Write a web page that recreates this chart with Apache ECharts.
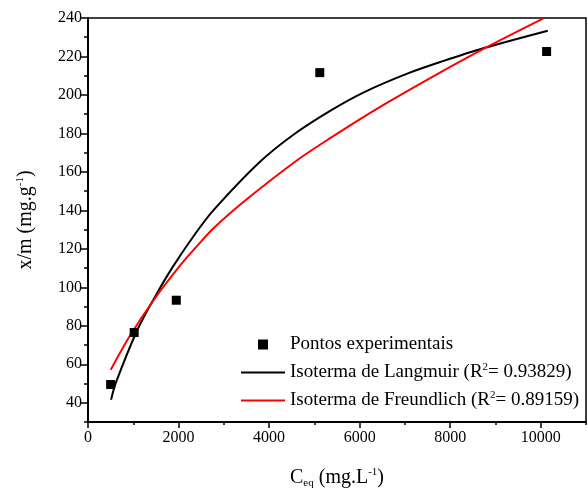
<!DOCTYPE html>
<html>
<head>
<meta charset="utf-8">
<script src="https://cdn.jsdelivr.net/npm/echarts@6/dist/echarts.min.js"></script>
<style>
  html, body { margin: 0; padding: 0; background: #fff; }
  #chart { width: 588px; height: 494px; }
</style>
</head>
<body>
<div id="chart"></div>
<script>
// experimental points (Ceq, x/m)
const pontos = [[500, 49.5], [1020, 76.5], [1950, 93.3], [5120, 211.6], [10130, 222.6]]

// fitted curves
const langmuir = [
  [510, 41.6], [614, 50.3], [1080, 77.3], [1486, 95.3], [1869, 110.5], [2373, 128],
  [2778, 140.3], [3776, 164.8], [4552, 179.6], [5366, 192], [6104, 201.5],
  [7066, 211.2], [7805, 217.3], [8765, 224.5], [10155, 233.4],
]
const freundlich = [
  [503, 57.1], [916, 74.4], [1448, 93.3], [2040, 111.5], [2373, 120.5], [2778, 130.8],
  [3519, 146], [4627, 166.2], [5366, 177.8], [6326, 192], [7656, 210],
  [8765, 224.3], [10060, 239.8],
]

const xTicks = [0, 2000, 4000, 6000, 8000, 10000]
const xMinor = [1000, 3000, 5000, 7000, 9000, 11000]
const yTicks = [40, 60, 80, 100, 120, 140, 160, 180, 200, 220, 240]
const yMinor = [30, 50, 70, 90, 110, 130, 150, 170, 190, 210, 230]

const font = 'Liberation Serif'
const chart = echarts.init(document.getElementById('chart'))

const legendText = {
  'Pontos experimentais': 'Pontos experimentais',
  langmuir: 'Isoterma de Langmuir (R{sup|2}= 0.93829)',
  freundlich: 'Isoterma de Freundlich (R{sup|2}= 0.89159)',
}
const lineIcon = 'path://M0,0H44V2H0Z'

chart.setOption({
  animation: false,
  backgroundColor: '#fff',
  textStyle: { fontFamily: font },
  grid: { left: 88, right: 2, top: 18, bottom: 71, show: true, borderColor: '#000', borderWidth: 1.5 },
  legend: {
    orient: 'vertical',
    left: 236,
    top: 330,
    itemWidth: 44,
    itemHeight: 10,
    itemGap: 8,
    symbolKeepAspect: true,
    data: [
      { name: 'Pontos experimentais', icon: 'path://M0,0H10V10H0Z' },
      { name: 'langmuir', icon: lineIcon },
      { name: 'freundlich', icon: lineIcon },
    ],
    formatter: (name) => legendText[name],
    textStyle: {
      fontFamily: font,
      fontSize: 19,
      color: '#000',
      rich: {
        sup: { fontFamily: font, fontSize: 11, padding: [0, 0, 10, 0] },
      },
    },
  },
  xAxis: [
    {
      type: 'value',
      min: 0,
      max: 11000,
      name: 'C{sub|eq} (mg.L{sup|-1})',
      nameLocation: 'middle',
      nameGap: 44,
      nameTextStyle: {
        fontFamily: font,
        fontSize: 20,
        color: '#000',
        rich: {
          sub: { fontFamily: font, fontSize: 11, padding: [12, 0, 0, 0] },
          sup: { fontFamily: font, fontSize: 11, padding: [0, 0, 10, 0] },
        },
      },
      splitLine: { show: false },
      axisLine: { lineStyle: { color: '#000', width: 2 } },
      axisTick: { length: 6, customValues: xTicks, lineStyle: { color: '#000', width: 1.5 } },
      axisLabel: {
        customValues: xTicks,
        formatter: (v) => String(v),
        color: '#000',
        fontSize: 16,
        fontFamily: font,
        margin: 8,
      },
    },
    {
      type: 'value',
      min: 0,
      max: 11000,
      position: 'bottom',
      splitLine: { show: false },
      axisLine: { show: false },
      axisTick: { length: 3, customValues: xMinor, lineStyle: { color: '#000', width: 1.5 } },
      axisLabel: { show: false },
    },
  ],
  yAxis: [
    {
      type: 'value',
      min: 30,
      max: 240,
      name: 'x/m (mg.g{sup|-1})',
      nameLocation: 'middle',
      nameRotate: 90,
      nameGap: 52,
      nameTextStyle: {
        fontFamily: font,
        fontSize: 20,
        color: '#000',
        rich: {
          sup: { fontFamily: font, fontSize: 11, padding: [0, 0, 10, 0] },
        },
      },
      splitLine: { show: false },
      axisLine: { lineStyle: { color: '#000', width: 2 } },
      axisTick: { length: 8, customValues: yTicks, lineStyle: { color: '#000', width: 1.5 } },
      axisLabel: { customValues: yTicks, color: '#000', fontSize: 16, fontFamily: font, margin: 6 },
    },
    {
      type: 'value',
      min: 30,
      max: 240,
      position: 'left',
      splitLine: { show: false },
      axisLine: { show: false },
      axisTick: { length: 4, customValues: yMinor, lineStyle: { color: '#000', width: 1.5 } },
      axisLabel: { show: false },
    },
  ],
  series: [
    {
      name: 'Pontos experimentais',
      type: 'scatter',
      data: pontos,
      symbol: 'rect',
      symbolSize: 9,
      itemStyle: { color: '#000', opacity: 1 },
      z: 5,
    },
    {
      name: 'langmuir',
      type: 'line',
      data: langmuir,
      smooth: 0.3,
      showSymbol: false,
      symbol: 'none',
      lineStyle: { color: '#000', width: 2 },
      itemStyle: { color: '#000' },
    },
    {
      name: 'freundlich',
      type: 'line',
      data: freundlich,
      smooth: 0.3,
      showSymbol: false,
      symbol: 'none',
      lineStyle: { color: '#ff0000', width: 2 },
      itemStyle: { color: '#ff0000' },
    },
  ],
})

window.addEventListener('resize', () => chart.resize())
</script>
</body>
</html>
